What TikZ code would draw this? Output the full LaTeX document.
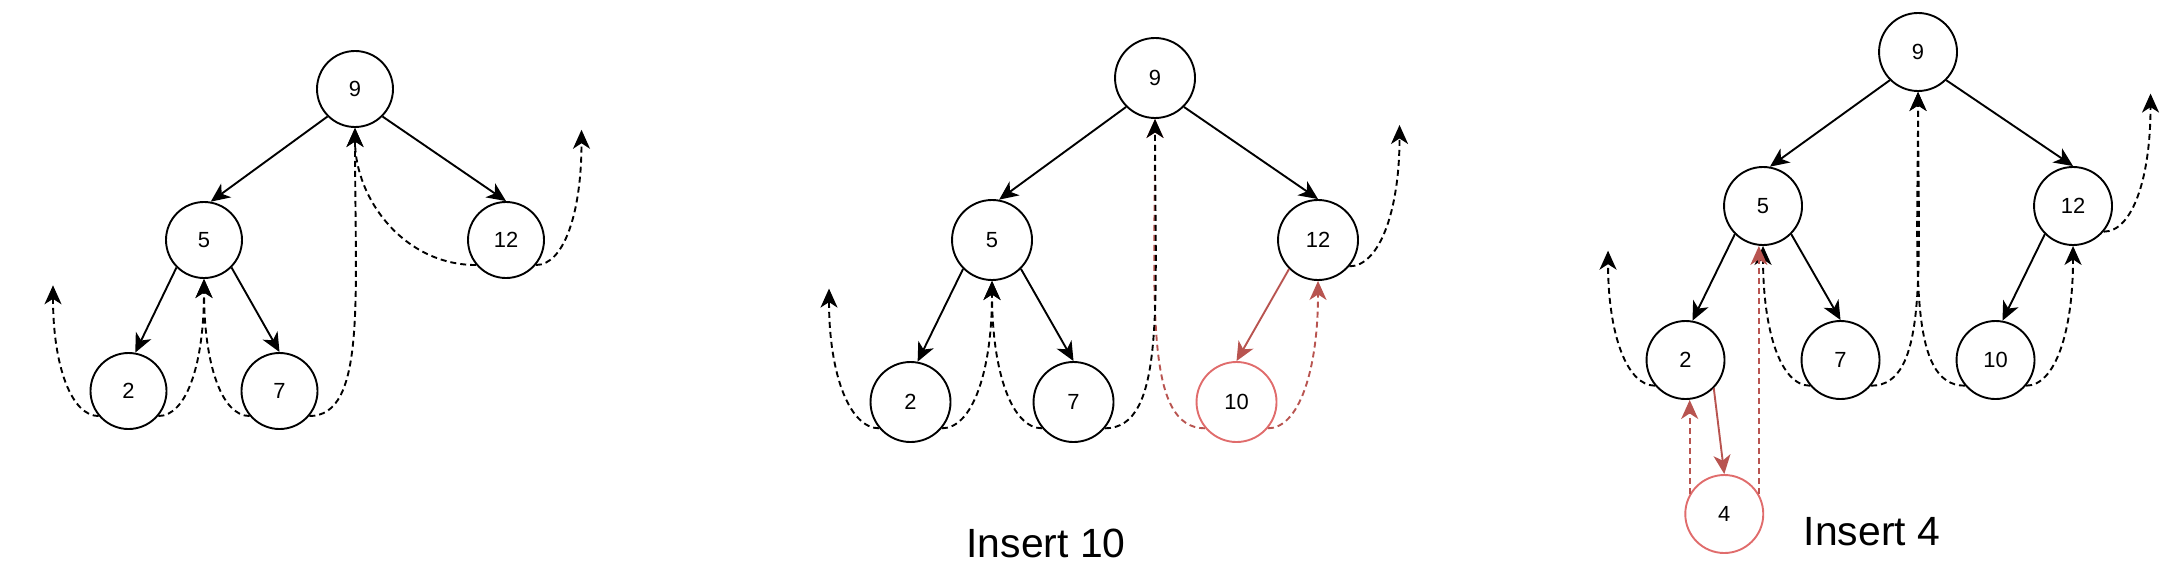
\documentclass[tikz,border=0pt]{standalone}
\usepackage{fontspec}
\setmainfont{Liberation Sans}
\usetikzlibrary{arrows.meta}

\definecolor{hl}{HTML}{B85450}
\definecolor{hlnode}{HTML}{E06C6C}

\begin{document}
\begin{tikzpicture}[x=1bp, y=1bp, line width=1.9bp,
  arr/.style={-{Stealth[length=19bp, width=17bp, inset=5.5bp]}},
  thread/.style={arr, dash pattern=on 6bp off 4bp},
  curl/.style={out looseness=0.5, in looseness=1.5},
  insertlabel/.style={font=\fontsize{41}{48}\selectfont, inner sep=0pt, anchor=base}]

  \useasboundingbox (0,0) rectangle (2164,-578);

  % Before
  \begin{scope}[shift={(355bp,-89bp)}, x=151bp, y=151bp]

    \begin{scope}[every node/.style={draw, shape=circle, minimum size=76bp, inner sep=0pt, font=\fontsize{22}{24}\selectfont}]

    \node (a9) at (0,0) {9};

    \node (a5) at (-1,-1) {5};
    \node (a12) at (1,-1) {12};

    \node (a2) at (-1.5,-2) {2};
    \node (a7) at (-0.5,-2) {7};

    \end{scope}

    \coordinate (aL) at (-2,-1.3);
    \coordinate (aR) at (1.5,-0.27);

    % Tree
    \draw[arr] (a9.south west) -- (a5.80);
    \draw[arr] (a9.south east) -- (a12.north);
    \draw[arr] (a5.south west) -- (a2.80);
    \draw[arr] (a5.south east) -- (a7.north);

    % Threads
    \draw[thread] (a2.-140) to[out=180, in=-90, curl] (aL);
    \draw[thread] (a2.-40) to[out=0, in=-90, curl] (a5.south);
    \draw[thread] (a7.-140) to[out=180, in=-90, curl] (a5.south);
    \draw[thread] (a7.-40) to[out=0, in=-90, curl] (a9.south);
    \draw[thread] (a12.-140) to[out=180, in=-90] (a9.south);
    \draw[thread] (a12.-40) to[out=0, in=-90, curl] (aR);

  \end{scope}

  % Insert 10
  \begin{scope}[shift={(1155bp,-78bp)}, x=163bp, y=162bp]

    \begin{scope}[every node/.style={draw, shape=circle, minimum size=80bp, inner sep=0pt, font=\fontsize{22}{24}\selectfont}]

    \node (b9) at (0,0) {9};

    \node (b5) at (-1,-1) {5};
    \node (b12) at (1,-1) {12};

    \node (b2) at (-1.5,-2) {2};
    \node (b7) at (-0.5,-2) {7};
    \node[draw=hlnode] (b10) at (0.5,-2) {10};

    \end{scope}

    \coordinate (bL) at (-2,-1.3);
    \coordinate (bR) at (1.5,-0.29);

    % Tree
    \draw[arr] (b9.south west) -- (b5.80);
    \draw[arr] (b9.south east) -- (b12.north);
    \draw[arr] (b5.south west) -- (b2.80);
    \draw[arr] (b5.south east) -- (b7.north);
    \draw[arr, hl] (b12.south west) -- (b10.north);

    % Threads
    \draw[thread, hl] (b10.-140) to[out=180, in=-90, curl] (b9.south);
    \draw[thread, hl] (b10.-40) to[out=0, in=-90, curl] (b12.south);

    \draw[thread] (b2.-140) to[out=180, in=-90, curl] (bL);
    \draw[thread] (b2.-40) to[out=0, in=-90, curl] (b5.south);
    \draw[thread] (b7.-140) to[out=180, in=-90, curl] (b5.south);
    \draw[thread] (b7.-40) to[out=0, in=-90, curl] (b9.south);
    \draw[thread] (b12.-40) to[out=0, in=-90, curl] (bR);

  \end{scope}

  \node[insertlabel] (t10) at (1046,-557) {Insert 10};

  % Insert 4
  \begin{scope}[shift={(1918bp,-52bp)}, x=155bp, y=154bp]

    \begin{scope}[every node/.style={draw, shape=circle, minimum size=78bp, inner sep=0pt, font=\fontsize{22}{24}\selectfont}]

    \node (c9) at (0,0) {9};

    \node (c5) at (-1,-1) {5};
    \node (c12) at (1,-1) {12};

    \node (c2) at (-1.5,-2) {2};
    \node (c7) at (-0.5,-2) {7};
    \node (c10) at (0.5,-2) {10};

    \node[draw=hlnode] (c4) at (-1.25,-3) {4};

    \end{scope}

    \coordinate (cL) at (-2,-1.29);
    \coordinate (cR) at (1.5,-0.27);

    % Tree
    \draw[arr] (c9.south west) -- (c5.80);
    \draw[arr] (c9.south east) -- (c12.north);
    \draw[arr] (c5.south west) -- (c2.80);
    \draw[arr] (c5.south east) -- (c7.north);
    \draw[arr] (c12.south west) -- (c10.80);
    \draw[arr, hl] (c2.south east) -- (c4.north);

    % Threads
    \draw[thread] (c2.-140) to[out=180, in=-90, curl] (cL);
    \draw[thread] (c7.-140) to[out=180, in=-90, curl] (c5.south);
    \draw[thread] (c7.-40) to[out=0, in=-90, curl] (c9.south);
    \draw[thread] (c10.-140) to[out=180, in=-90, curl] (c9.south);
    \draw[thread] (c10.-40) to[out=0, in=-90, curl] (c12.south);
    \draw[thread] (c12.-40) to[out=0, in=-90, curl] (cR);

    \draw[thread, hl] (c4.150) -- (c4.150 |- c2.south);
    \draw[thread, hl] (c4.30) -- (c4.30 |- c5.south);

  \end{scope}

  \node[insertlabel] (t4) at (1872,-545) {Insert 4};

\end{tikzpicture}
\end{document}
